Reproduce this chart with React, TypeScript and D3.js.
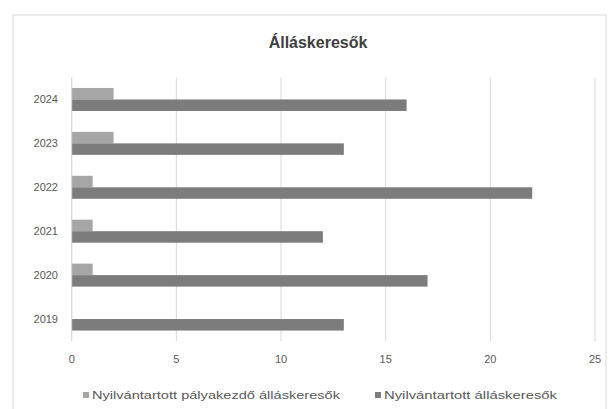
import React from "react";
import * as d3 from "d3";

const categories = ["2019", "2020", "2021", "2022", "2023", "2024"];
const palyakezdo = [0, 1, 1, 1, 2, 2];
const osszes = [13, 17, 12, 22, 13, 16];
const xTicks = [0, 5, 10, 15, 20, 25];
const seriesNames = ["Nyilvántartott pályakezdő álláskeresők", "Nyilvántartott álláskeresők"];
const colors = ["#a6a6a6", "#7c7c7c"];

export default function App() {
  const W = 612, H = 409;
  const x = d3.scaleLinear().domain([0, 25]).range([71.7, 595]);
  const y = d3.scaleBand().domain([...categories].reverse()).range([77.5, 341]);
  const bw = y.bandwidth();
  const barH = bw / (2 + 1.82);
  const font = "'Liberation Sans', Arial, sans-serif";
  return (
    <svg width={W} height={H} style={{ position: "absolute", left: 0, top: 0, background: "#fff" }} fontFamily={font}>
      <rect x={13} y={15} width={593} height={400} fill="#fff" stroke="#d9d9d9" strokeWidth={1} />
      <text x={318} y={48} textAnchor="middle" fontSize={16} fontWeight="bold" fill="#404040">Álláskeresők</text>
      {xTicks.map((t) => (
        <g key={t}>
          <line x1={x(t)} x2={x(t)} y1={77.5} y2={341} stroke="#d9d9d9" strokeWidth={1} />
          <text x={x(t)} y={363} textAnchor="middle" fontSize={11} fill="#595959">{t}</text>
        </g>
      ))}
      {categories.map((c, i) => {
        const y0 = (y(c) as number) + bw / 2 - barH;
        return (
          <g key={c}>
            <rect x={x(0)} y={y0} width={x(palyakezdo[i]) - x(0)} height={barH} fill={colors[0]} />
            <rect x={x(0)} y={y0 + barH} width={x(osszes[i]) - x(0)} height={barH} fill={colors[1]} />
            <text x={58} y={(y(c) as number) + bw / 2 + 4} textAnchor="end" fontSize={11} fill="#595959">{c}</text>
          </g>
        );
      })}
      <line x1={x(0)} x2={x(0)} y1={77.5} y2={341} stroke="#d9d9d9" />
      <rect x={83} y={392} width={6} height={6} fill={colors[0]} />
      <text x={92} y={399} fontSize={11} fill="#595959" textLength={248} lengthAdjust="spacingAndGlyphs">{seriesNames[0]}</text>
      <rect x={375} y={392} width={6} height={6} fill={colors[1]} />
      <text x={384} y={399} fontSize={11} fill="#595959" textLength={173} lengthAdjust="spacingAndGlyphs">{seriesNames[1]}</text>
    </svg>
  );
}
